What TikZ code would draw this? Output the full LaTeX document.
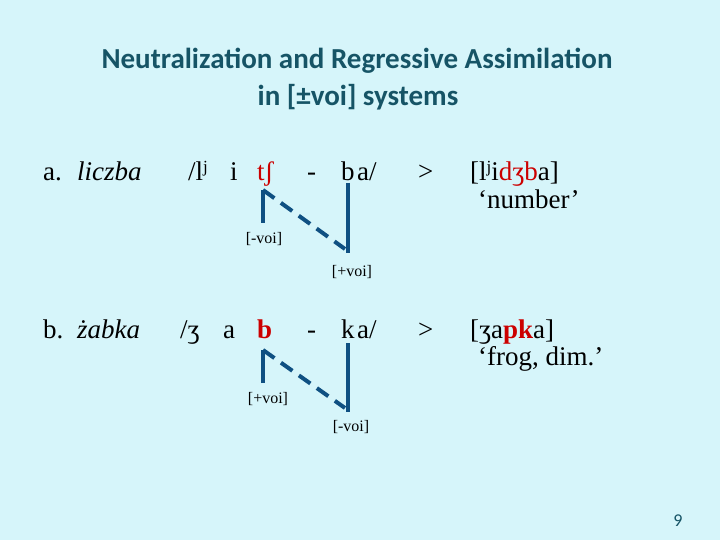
\documentclass[tikz,border=0pt]{standalone}
\usepackage{fontspec}
\setmainfont{Liberation Serif}
\newfontfamily\titlefont{Carlito}
\definecolor{bgc}{RGB}{214,245,250}
\definecolor{titlec}{RGB}{22,84,102}
\definecolor{linec}{RGB}{15,80,130}
\definecolor{redc}{RGB}{204,0,0}
\newcommand{\supj}{\raisebox{0.3em}{\fontsize{17}{17}\selectfont j}}
\tikzset{
  body/.style={anchor=base west, inner sep=0pt, font=\fontsize{27}{30}\selectfont},
  lbl/.style={anchor=center, inner sep=0pt, font=\fontsize{16}{18}\selectfont},
  ttl/.style={anchor=center, inner sep=0pt, text=titlec, font=\titlefont\bfseries\fontsize{29}{32}\selectfont},
  solidln/.style={draw=linec, line width=4pt},
  dashln/.style={draw=linec, line width=4pt, dash pattern=on 14pt off 8pt},
}
\begin{document}
\begin{tikzpicture}[x=1pt,y=-1pt]
\fill[bgc] (0,0) rectangle (720,540);
\useasboundingbox (0,0) rectangle (720,540);
% title
\node[ttl] (t1) at (357,61) {Neutralization and Regressive Assimilation};
\node[ttl] (t2) at (358,97) {in [±voi] systems};
% row a
\node[body] (aa) at (43,181) {a.};
\node[body] (aw) at (77,181) {\itshape liczba};
\node[body] (a1) at (188,181) {/l\supj};
\node[body] (a2) at (230,181) {i};
\node[body,text=redc] (a3) at (257,181) {tʃ};
\node[body] (a4) at (307,181) {-};
\node[body] (a5) at (341,181) {b};
\node[body] (a6) at (357,181) {a/};
\node[body] (ag) at (418,181) {>};
\node[body] (ar) at (470,181) {[l\supj i\textcolor{redc}{dʒb}a]};
\node[body] (am) at (478,208) {‘number’};
\coordinate (aL1) at (263,223);
\coordinate (aL2) at (263,190);
\coordinate (aR1) at (348,183);
\coordinate (aR2) at (348,253);
\coordinate (aD) at (345,249);
\draw[solidln] (aL1) -- (aL2);
\draw[solidln] (aR1) -- (aR2);
\draw[dashln] (aL2) -- (aD);
\node[lbl] (al1) at (264,239) {[-voi]};
\node[lbl] (al2) at (352,272) {[+voi]};
% row b
\node[body] (bb) at (43,338) {b.};
\node[body] (bw) at (77,338) {\itshape żabka};
\node[body] (b1) at (180,338) {/ʒ};
\node[body] (b2) at (223,338) {a};
\node[body,text=redc] (b3) at (257,338) {\bfseries b};
\node[body] (b4) at (307,338) {-};
\node[body] (b5) at (341,338) {k};
\node[body] (b6) at (357,338) {a/};
\node[body] (bg) at (418,338) {>};
\node[body] (br) at (470,338) {[ʒa\textcolor{redc}{\bfseries pk}a]};
\node[body] (bm) at (478,365) {‘frog, dim.’};
\coordinate (bL1) at (263,383);
\coordinate (bL2) at (263,350);
\coordinate (bR1) at (348,343);
\coordinate (bR2) at (348,412);
\coordinate (bD) at (345,408);
\draw[solidln] (bL1) -- (bL2);
\draw[solidln] (bR1) -- (bR2);
\draw[dashln] (bL2) -- (bD);
\node[lbl] (bl1) at (268,399) {[+voi]};
\node[lbl] (bl2) at (351,427) {[-voi]};
% page number
\node[anchor=center, inner sep=0pt, text=titlec, font=\titlefont\fontsize{18}{20}\selectfont] (pg) at (678,521) {9};
\end{tikzpicture}
\end{document}
